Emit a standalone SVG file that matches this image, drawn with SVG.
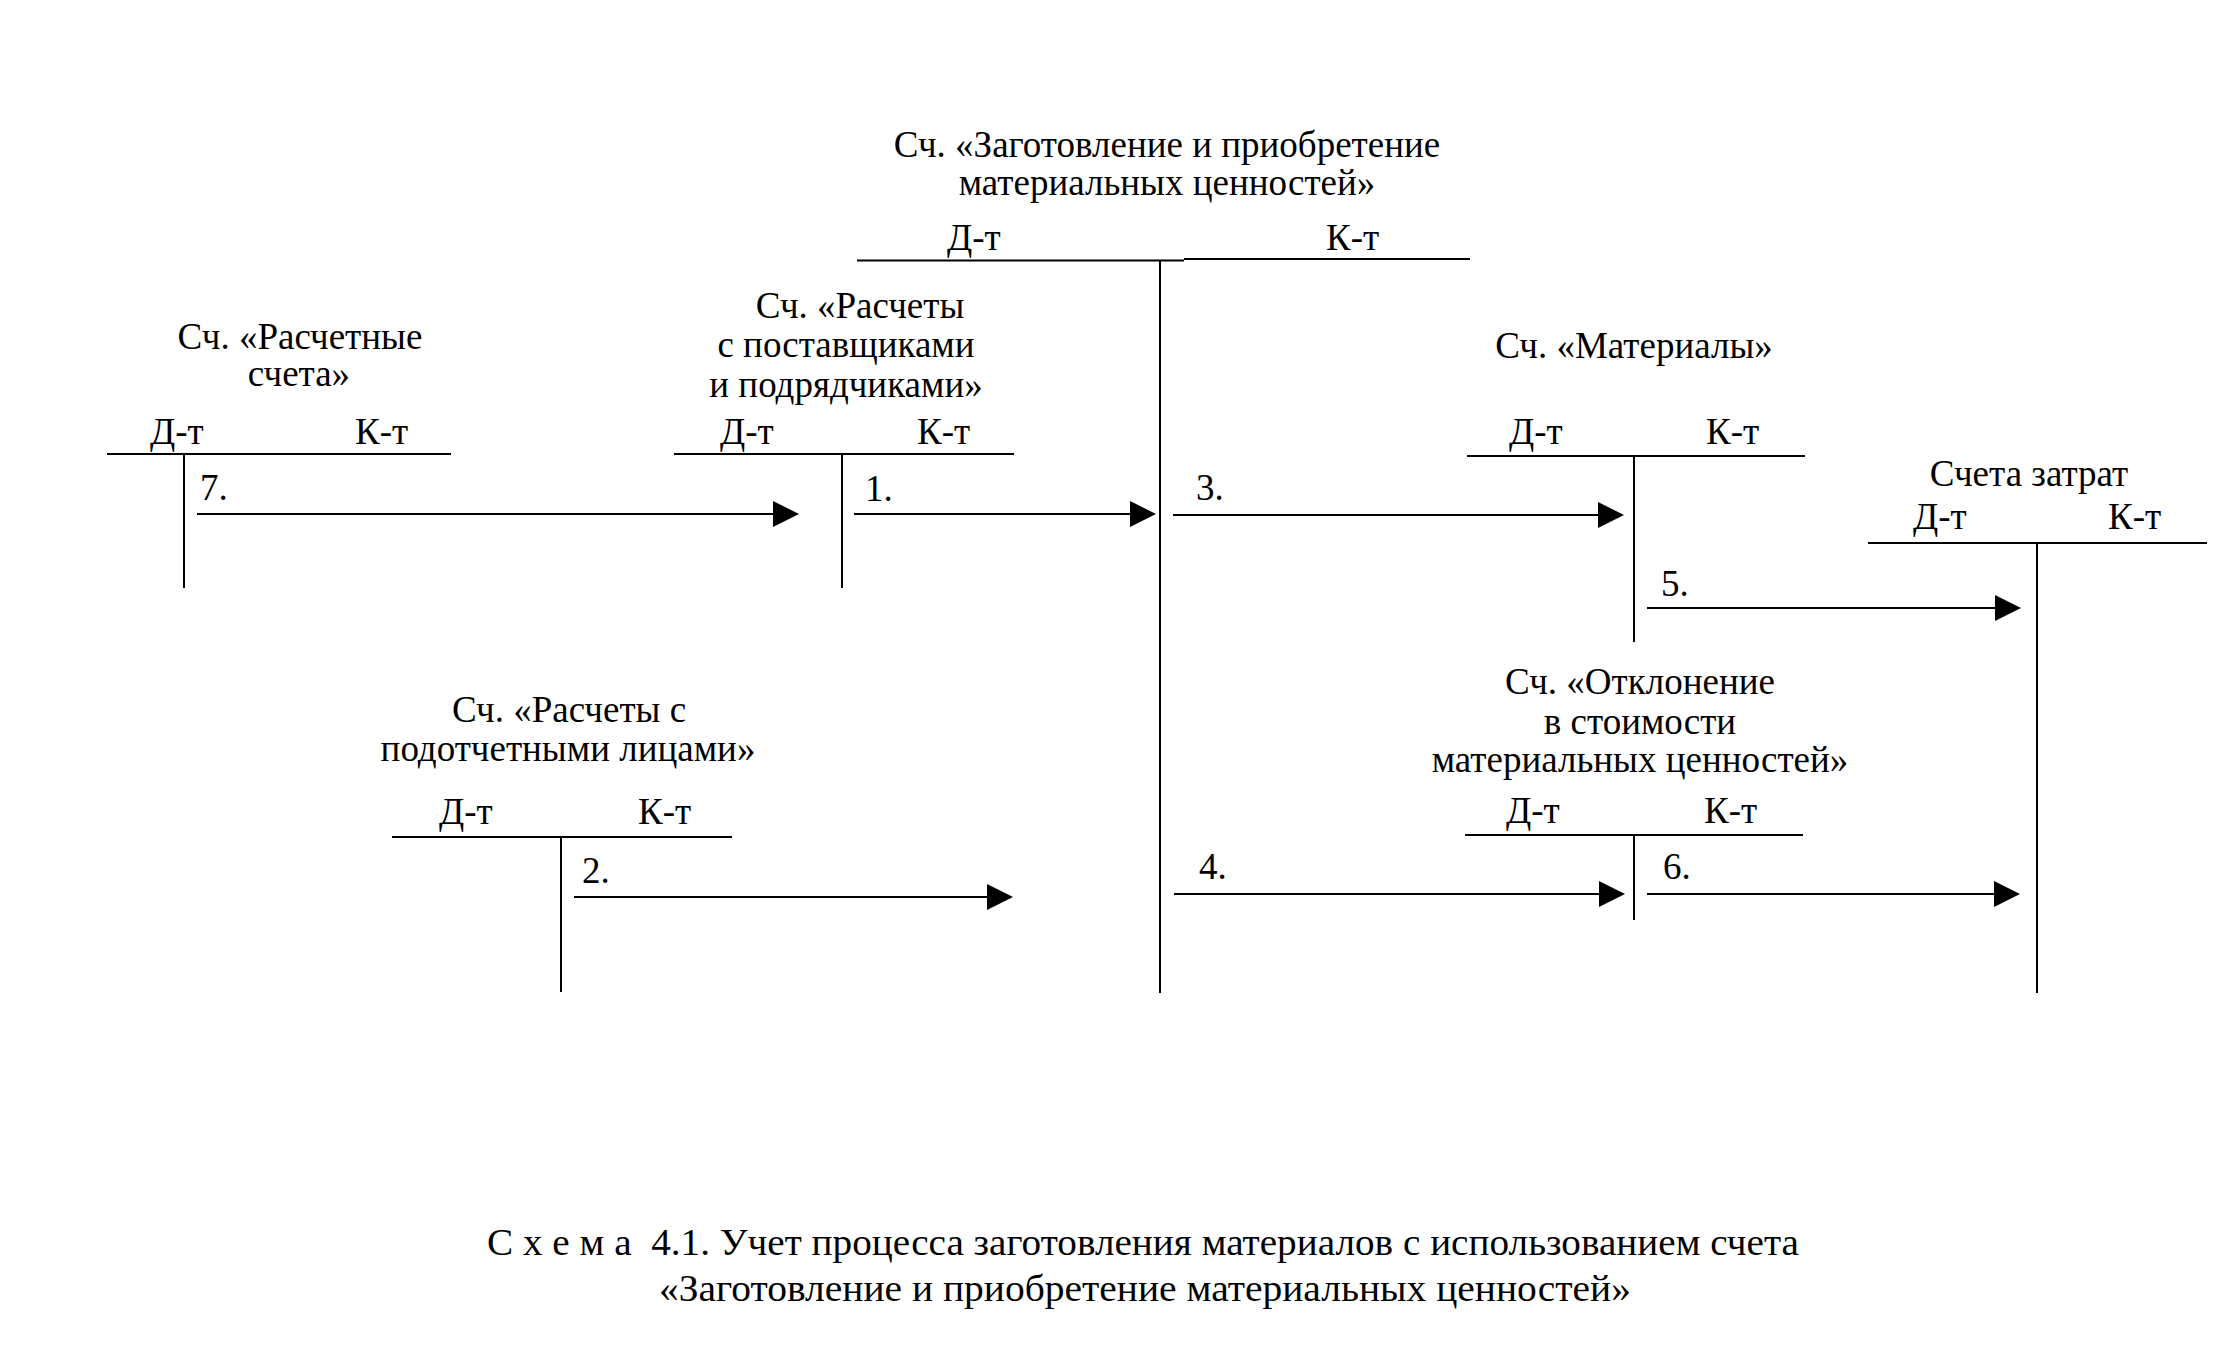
<svg xmlns="http://www.w3.org/2000/svg" width="2224" height="1356" viewBox="0 0 2224 1356">
<style>
text{font-family:"Liberation Serif","Times New Roman",serif;font-size:37px;fill:#000}
.c{text-anchor:middle}
.cap{font-size:38px}
line{stroke:#000;stroke-width:2;fill:none}
.arr{marker-end:url(#ah)}
</style>
<defs>
<marker id="ah" markerUnits="userSpaceOnUse" markerWidth="26" markerHeight="26" refX="0" refY="13" orient="auto">
<path d="M0,0 L26,13 L0,26 z" fill="#000"/>
</marker>
</defs>
<rect width="2224" height="1356" fill="#fff"/>

<g id="node-main">
<text class="c" x="1167" y="157">Сч. «Заготовление и приобретение</text>
<text class="c" x="1167" y="195">материальных ценностей»</text>
<text x="947" y="250">Д-т</text>
<text x="1326" y="250">К-т</text>
<line x1="857" y1="260.5" x2="1184" y2="260.5"/>
<line x1="1184" y1="259" x2="1470" y2="259"/>
<line x1="1160" y1="260" x2="1160" y2="993"/>
</g>

<g id="node-raschetnye">
<text class="c" x="300" y="349">Сч. «Расчетные</text>
<text class="c" x="299" y="386">счета»</text>
<text x="150" y="444">Д-т</text>
<text x="355" y="444">К-т</text>
<line x1="107" y1="454" x2="451" y2="454"/>
<line x1="184" y1="454" x2="184" y2="588"/>
</g>

<g id="node-postavshchiki">
<text class="c" x="860" y="318">Сч. «Расчеты</text>
<text class="c" x="846" y="357">с поставщиками</text>
<text class="c" x="846" y="397">и подрядчиками»</text>
<text x="720" y="444">Д-т</text>
<text x="917" y="444">К-т</text>
<line x1="674" y1="454" x2="1014" y2="454"/>
<line x1="842" y1="454" x2="842" y2="588"/>
</g>

<g id="node-materialy">
<text class="c" x="1634" y="358">Сч. «Материалы»</text>
<text x="1509" y="444">Д-т</text>
<text x="1706" y="444">К-т</text>
<line x1="1467" y1="456" x2="1805" y2="456"/>
<line x1="1634" y1="456" x2="1634" y2="642"/>
</g>

<g id="node-zatraty">
<text class="c" x="2029" y="486">Счета затрат</text>
<text x="1913" y="529">Д-т</text>
<text x="2108" y="529">К-т</text>
<line x1="1868" y1="543" x2="2207" y2="543"/>
<line x1="2037" y1="543" x2="2037" y2="993"/>
</g>

<g id="node-otklonenie">
<text class="c" x="1640" y="694">Сч. «Отклонение</text>
<text class="c" x="1640" y="734">в стоимости</text>
<text class="c" x="1640" y="772">материальных ценностей»</text>
<text x="1506" y="823">Д-т</text>
<text x="1704" y="823">К-т</text>
<line x1="1465" y1="835" x2="1803" y2="835"/>
<line x1="1634" y1="835" x2="1634" y2="920"/>
</g>

<g id="node-podotchetnye">
<text class="c" x="569" y="722">Сч. «Расчеты с</text>
<text class="c" x="568" y="761">подотчетными лицами»</text>
<text x="439" y="824">Д-т</text>
<text x="638" y="824">К-т</text>
<line x1="392" y1="837" x2="732" y2="837"/>
<line x1="561" y1="837" x2="561" y2="992"/>
</g>

<g id="connectors">
<line class="arr" x1="197" y1="514" x2="773" y2="514"/>
<text x="200" y="500">7.</text>
<line class="arr" x1="854" y1="514" x2="1130" y2="514"/>
<text x="865" y="501">1.</text>
<line class="arr" x1="1173" y1="515" x2="1598" y2="515"/>
<text x="1196" y="500">3.</text>
<line class="arr" x1="1647" y1="608" x2="1995" y2="608"/>
<text x="1661" y="596">5.</text>
<line class="arr" x1="574" y1="897" x2="987" y2="897"/>
<text x="582" y="883">2.</text>
<line class="arr" x1="1174" y1="894" x2="1599" y2="894"/>
<text x="1199" y="879">4.</text>
<line class="arr" x1="1647" y1="894" x2="1994" y2="894"/>
<text x="1663" y="879">6.</text>
</g>

<g id="caption">
<text class="cap" x="487" y="1255" textLength="1312" lengthAdjust="spacingAndGlyphs" xml:space="preserve">С х е м а  4.1. Учет процесса заготовления материалов с использованием счета</text>
<text class="cap" x="659" y="1301" textLength="972" lengthAdjust="spacingAndGlyphs">«Заготовление и приобретение материальных ценностей»</text>
</g>
</svg>
